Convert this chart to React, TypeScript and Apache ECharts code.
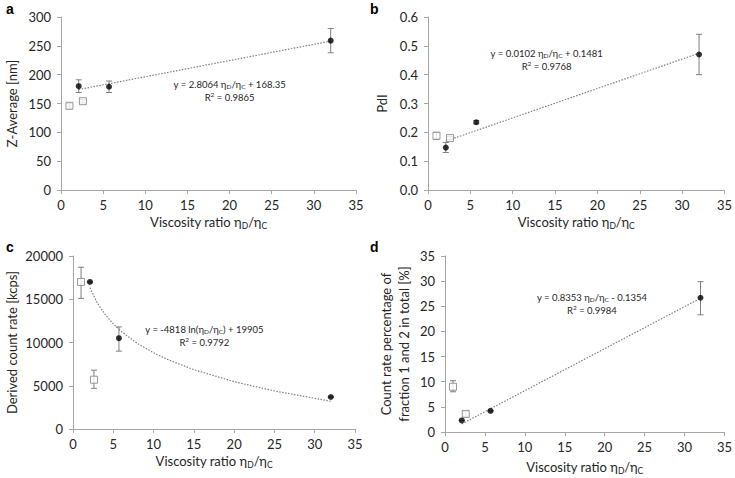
import React, { useEffect, useRef } from 'react';
import * as echarts from 'echarts';

const FONT = 'Lato';
const TXT = '#262626';
const AXIS = '#a6a6a6';
const GREY = '#7f7f7f';

// x axis shared
const xMin = 0, xMax = 35, xInterval = 5;

// Panel a: Z-Average [nm]
const aOpenX = [1.0, 2.6];
const aOpenY = [146, 154];
const aOpenLow = [142, 151];
const aOpenHigh = [150, 157];
const aFilledX = [2.1, 5.7, 32];
const aFilledY = [180, 179, 259];
const aFilledLow = [169, 169, 238];
const aFilledHigh = [191, 189, 280];
const aTrendX = [2.1, 32];
const aTrendY = [174.2, 258.2];

// Panel b: PdI
const bOpenX = [1.0, 2.6];
const bOpenY = [0.188, 0.18];
const bOpenLow = [0.176, 0.174];
const bOpenHigh = [0.2, 0.186];
const bFilledX = [2.1, 5.7, 32];
const bFilledY = [0.147, 0.235, 0.47];
const bFilledLow = [0.13, 0.229, 0.4];
const bFilledHigh = [0.165, 0.241, 0.54];
const bTrendX = [2.1, 32];
const bTrendY = [0.1695, 0.4745];

// Panel c: Derived count rate [kcps]
const cOpenX = [1.0, 2.6];
const cOpenY = [17000, 5700];
const cOpenLow = [15100, 4700];
const cOpenHigh = [18700, 6800];
const cFilledX = [2.1, 5.7, 32];
const cFilledY = [17000, 10500, 3700];
const cFilledLow = [17000, 9000, 3700];
const cFilledHigh = [17000, 11800, 3700];
const cTrendX = [2.1, 3, 4, 5, 6, 8, 10, 12, 15, 20, 25, 32];
const cTrendY = [16330, 14612, 13226, 12151, 11272, 9886, 8811, 7933, 6858, 5472, 4397, 3207];

// Panel d: Count rate percentage
const dOpenX = [1.0, 2.6];
const dOpenY = [9.0, 3.6];
const dOpenLow = [8.0, 3.1];
const dOpenHigh = [10.2, 4.1];
const dFilledX = [2.1, 5.7, 32];
const dFilledY = [2.3, 4.2, 26.7];
const dFilledLow = [2.3, 4.2, 23.3];
const dFilledHigh = [2.3, 4.2, 29.9];
const dTrendX = [2.1, 32];
const dTrendY = [1.62, 26.6];

const zip = (a: number[], b: number[]) => a.map((v, i) => [v, b[i]]);
const zip3 = (a: number[], b: number[], c: number[]) => a.map((v, i) => [v, b[i], c[i]]);

const xName = '{n|Viscosity ratio η}{s|D}{n|/η}{s|C}';

function eq(line1: string[], r2: string) {
  return `{t|${line1[0]}}{s|D}{t|${line1[1]}}{s|C}{t|${line1[2]}}\n{t|R}{p|2}{t| = ${r2}}`;
}

const panels = [
  {
    grid: { left: 61, top: 17, width: 295, height: 173 },
    y: { min: 0, max: 300, interval: 50, fmt: (v: number) => String(v) },
    yName: 'Z-Average [nm]', yGap: 40, xGap: 24,
    open: [aOpenX, aOpenY, aOpenLow, aOpenHigh],
    filled: [aFilledX, aFilledY, aFilledLow, aFilledHigh],
    trend: [aTrendX, aTrendY],
    eqPos: [20, 172],
    eqText: eq(['y = 2.8064 η', '/η', ' + 168.35'], '0.9865'),
  },
  {
    grid: { left: 428, top: 17, width: 299, height: 173 },
    y: { min: 0, max: 0.6, interval: 0.1, fmt: (v: number) => v.toFixed(1) },
    yName: 'PdI', yGap: 37, xGap: 24,
    open: [bOpenX, bOpenY, bOpenLow, bOpenHigh],
    filled: [bFilledX, bFilledY, bFilledLow, bFilledHigh],
    trend: [bTrendX, bTrendY],
    eqPos: [14, 0.451],
    eqText: eq(['y = 0.0102 η', '/η', ' + 0.1481'], '0.9768'),
  },
  {
    grid: { left: 73, top: 256, width: 282, height: 173 },
    y: { min: 0, max: 20000, interval: 5000, fmt: (v: number) => String(v) },
    yName: 'Derived count rate [kcps]', yGap: 52, xGap: 24,
    open: [cOpenX, cOpenY, cOpenLow, cOpenHigh],
    filled: [cFilledX, cFilledY, cFilledLow, cFilledHigh],
    trend: [cTrendX, cTrendY],
    eqPos: [16.3, 10790],
    eqText: eq(['y = -4818 ln(η', '/η', ') + 19905'], '0.9792'),
  },
  {
    grid: { left: 445, top: 256, width: 281, height: 176 },
    y: { min: 0, max: 35, interval: 5, fmt: (v: number) => String(v) },
    yName: 'Count rate percentage of\nfraction 1 and 2 in total [%]', yGap: 32, xGap: 27,
    open: [dOpenX, dOpenY, dOpenLow, dOpenHigh],
    filled: [dFilledX, dFilledY, dFilledLow, dFilledHigh],
    trend: [dTrendX, dTrendY],
    eqPos: [18.4, 25.5],
    eqText: eq(['y = 0.8353 η', '/η', ' - 0.1354'], '0.9984'),
  },
];

const letters = [
  { t: 'a', x: 6, y: 2 },
  { t: 'b', x: 370, y: 2 },
  { t: 'c', x: 6, y: 240 },
  { t: 'd', x: 370, y: 240 },
];

function errorRender(params: any, api: any) {
  const x = api.value(0);
  const lo = api.value(1);
  const hi = api.value(2);
  const p1 = api.coord([x, lo]);
  const p2 = api.coord([x, hi]);
  const w = 3;
  const st = { stroke: GREY, lineWidth: 1 };
  return {
    type: 'group',
    children: [
      { type: 'line', shape: { x1: p1[0], y1: p1[1], x2: p2[0], y2: p2[1] }, style: st },
      { type: 'line', shape: { x1: p1[0] - w, y1: p1[1], x2: p1[0] + w, y2: p1[1] }, style: st },
      { type: 'line', shape: { x1: p2[0] - w, y1: p2[1], x2: p2[0] + w, y2: p2[1] }, style: st },
    ],
  };
}

function buildOption() {
  const grid: any[] = [];
  const xAxis: any[] = [];
  const yAxis: any[] = [];
  const series: any[] = [];
  panels.forEach((p, i) => {
    grid.push({ ...p.grid, containLabel: false });
    xAxis.push({
      type: 'value', gridIndex: i, min: xMin, max: xMax, interval: xInterval,
      axisLine: { show: true, lineStyle: { color: AXIS, width: 1 } },
      axisTick: { show: true, length: 4, lineStyle: { color: AXIS } },
      splitLine: { show: false },
      axisLabel: { color: TXT, fontFamily: FONT, fontSize: 13, margin: 8 },
      name: xName, nameLocation: 'middle', nameGap: p.xGap,
      nameTextStyle: {
        color: TXT, fontFamily: FONT, fontSize: 13,
        rich: {
          n: { color: TXT, fontFamily: FONT, fontSize: 13 },
          s: { color: TXT, fontFamily: FONT, fontSize: 8.5, padding: [7, 0, 0, 0] },
        },
      },
    });
    yAxis.push({
      type: 'value', gridIndex: i, min: p.y.min, max: p.y.max, interval: p.y.interval,
      axisLine: { show: true, lineStyle: { color: AXIS, width: 1 } },
      axisTick: { show: true, length: 4, lineStyle: { color: AXIS } },
      splitLine: { show: false },
      axisLabel: { color: TXT, fontFamily: FONT, fontSize: 13, margin: 10, formatter: p.y.fmt },
      name: p.yName, nameLocation: 'middle', nameGap: p.yGap, nameRotate: 90,
      nameTextStyle: { color: TXT, fontFamily: FONT, fontSize: 13, lineHeight: 18 },
    });
    const [oX, oY, oL, oH] = p.open;
    const [fX, fY, fL, fH] = p.filled;
    series.push({
      type: 'custom', xAxisIndex: i, yAxisIndex: i,
      renderItem: errorRender,
      encode: { x: 0, y: [1, 2] },
      data: zip3(oX, oL, oH).concat(zip3(fX, fL, fH)),
      z: 1,
    });
    series.push({
      type: 'line', xAxisIndex: i, yAxisIndex: i,
      data: zip(p.trend[0], p.trend[1]),
      showSymbol: false, symbol: 'none', smooth: false,
      lineStyle: { color: GREY, width: 1.2, type: [1.5, 1.5] },
      z: 2,
      markPoint: {
        symbol: 'circle', symbolSize: 0,
        data: [{ coord: p.eqPos }],
        label: {
          show: true, position: 'inside', formatter: p.eqText, align: 'center',
          rich: {
            t: { color: TXT, fontFamily: FONT, fontSize: 9.5, lineHeight: 13 },
            s: { color: TXT, fontFamily: FONT, fontSize: 6.5, padding: [5, 0, 0, 0] },
            p: { color: TXT, fontFamily: FONT, fontSize: 6.5, padding: [0, 0, 5, 0] },
          },
        },
      },
    });
    series.push({
      type: 'scatter', xAxisIndex: i, yAxisIndex: i,
      data: zip(oX, oY), symbol: 'rect', symbolSize: 7,
      itemStyle: { color: '#ffffff', borderColor: GREY, borderWidth: 1 },
      z: 3,
    });
    series.push({
      type: 'scatter', xAxisIndex: i, yAxisIndex: i,
      data: zip(fX, fY), symbol: 'circle', symbolSize: 6,
      itemStyle: { color: '#000000' },
      z: 4,
    });
  });
  return {
    animation: false,
    backgroundColor: '#ffffff',
    grid, xAxis, yAxis, series,
    graphic: letters.map((l) => ({
      type: 'text', left: l.x, top: l.y,
      style: { text: l.t, fill: '#000', font: `bold 14px "Liberation Sans", Arial, sans-serif` },
    })),
  };
}

export default function App() {
  const ref = useRef<HTMLDivElement>(null);
  useEffect(() => {
    if (!ref.current) return;
    const chart = echarts.init(ref.current, undefined, { renderer: 'svg' });
    chart.setOption(buildOption() as any);
    return () => chart.dispose();
  }, []);
  return (
    <div
      ref={ref}
      style={{ position: 'fixed', left: 0, top: 0, width: 735, height: 478, background: '#fff' }}
    />
  );
}
